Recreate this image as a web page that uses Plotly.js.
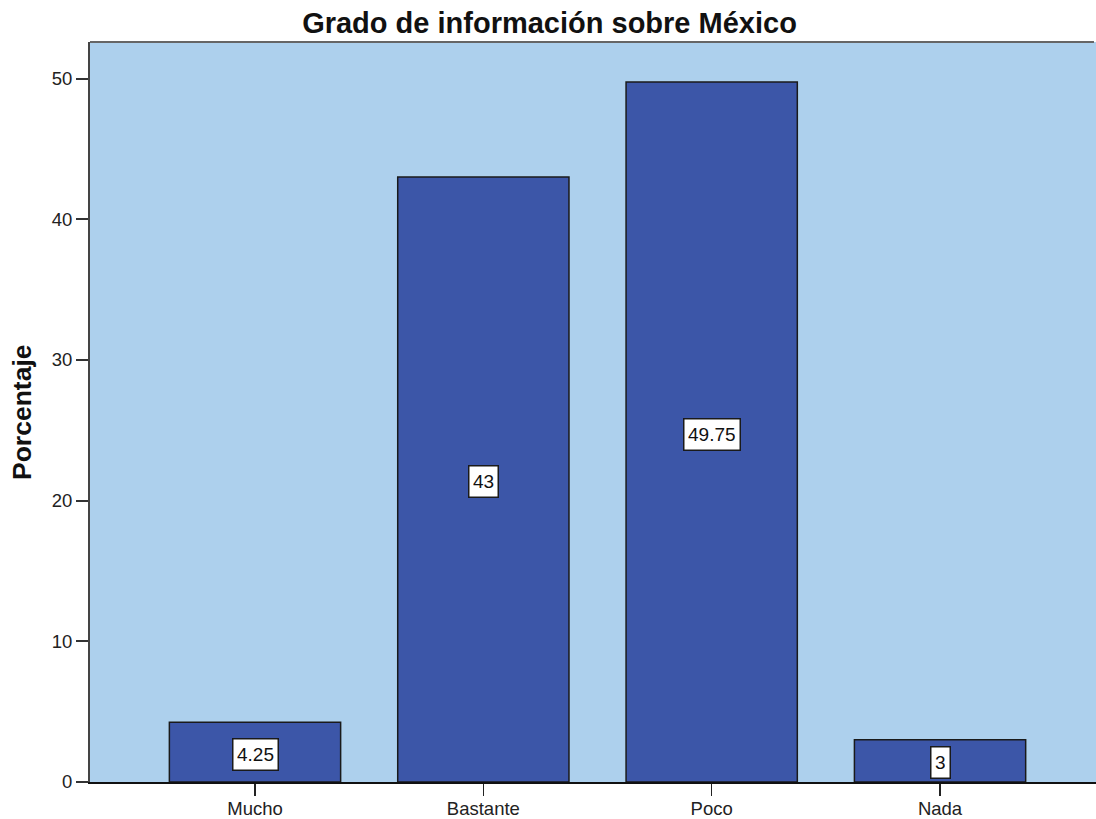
<!DOCTYPE html>
<html>
<head>
<meta charset="utf-8">
<script src="https://cdn.plot.ly/plotly-3.0.1.min.js"></script>
<style>html,body{margin:0;padding:0;background:#fff;}#chart{width:1096px;height:819px;}</style>
</head>
<body>
<div id="chart"></div>
<script>
const categories = ["Mucho", "Bastante", "Poco", "Nada"];
const percentages = [4.25, 43, 49.75, 3];
const valueLabels = ["4.25", "43", "49.75", "3"];
const yTicks = [0, 10, 20, 30, 40, 50];

const FONT = "Liberation Sans, Arial, sans-serif";

const trace = {
  type: "bar",
  x: [0, 1, 2, 3],
  y: percentages,
  width: 0.75,
  marker: { color: "#3c56a8", line: { color: "#1a1a1a", width: 1.5 } },
  hoverinfo: "x+y"
};

const annotations = percentages.map((v, i) => ({
  x: i, y: v / 2, xref: "x", yref: "y", yshift: -2,
  text: valueLabels[i], showarrow: false,
  font: { family: FONT, size: 19, color: "#111" },
  height: 23,
  bgcolor: "#ffffff", bordercolor: "#1a1a1a", borderwidth: 1.5, borderpad: 3.5
}));

annotations.push({
  xref: "paper", yref: "paper", x: -0.0676, y: 0.5,
  xanchor: "center", yanchor: "middle",
  text: "<b>Porcentaje</b>", textangle: -90, showarrow: false,
  font: { family: FONT, size: 26.5, color: "#111" }
});

const layout = {
  width: 1096, height: 819,
  margin: { l: 90, r: 0, t: 42, b: 37, pad: 0 },
  paper_bgcolor: "#ffffff",
  plot_bgcolor: "#add0ed",
  showlegend: false,
  title: {
    text: "<b>Grado de información sobre México</b>",
    font: { family: FONT, size: 29, color: "#111" },
    x: 549.5 / 1096, xref: "container", xanchor: "center",
    y: 1 - 23 / 819, yref: "container", yanchor: "middle"
  },
  xaxis: {
    range: [-0.7226, 3.683],
    tickvals: [0, 1, 2, 3], ticktext: categories,
    ticks: "outside", ticklen: 12, tickwidth: 1.5, tickcolor: "#222",
    ticklabelstandoff: -3,
    showline: true, linecolor: "#111", linewidth: 1.5,
    showgrid: false, zeroline: false, fixedrange: true,
    tickfont: { family: FONT, size: 18.5, color: "#222" }
  },
  yaxis: {
    range: [0, 52.6],
    tickvals: yTicks, ticktext: yTicks.map(String),
    ticks: "outside", ticklen: 12, tickwidth: 2, tickcolor: "#333",
    showline: true, linecolor: "#444", linewidth: 2,
    showgrid: false, zeroline: false, fixedrange: true,
    tickfont: { family: FONT, size: 18.5, color: "#222" }
  },
  shapes: [{
    type: "line", xref: "paper", yref: "paper", x0: 0, x1: 0.998, y0: 1, y1: 1,
    line: { color: "#666", width: 2 }
  }],
  annotations: annotations
};

Plotly.newPlot("chart", [trace], layout, { displayModeBar: false, staticPlot: true });
</script>
</body>
</html>
